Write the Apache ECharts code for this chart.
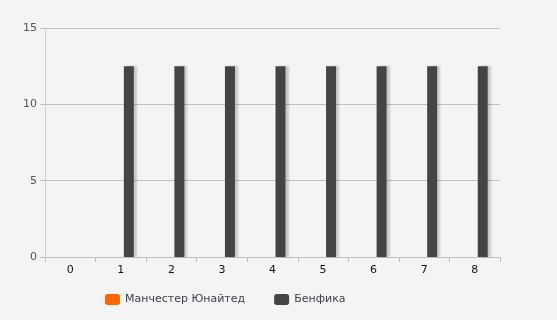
<!DOCTYPE html>
<html><head><meta charset="utf-8">
<script src="https://cdn.jsdelivr.net/npm/echarts@6/dist/echarts.min.js"></script>
<style>html,body{margin:0;padding:0;background:#f4f4f4}#c{width:557px;height:320px}</style>
</head><body><div id="c"></div>
<script>
var categories = ['0','1','2','3','4','5','6','7','8'];
var manUtdValues = [0,0,0,0,0,0,0,0,0];
var benficaValues = [0,12.5,12.5,12.5,12.5,12.5,12.5,12.5,12.5];
var seriesNames = ['Манчестер Юнайтед','Бенфика'];
var yTicks = {min:0, max:15, interval:5};

var chart = echarts.init(document.getElementById('c'), null, {renderer:'canvas'});
var font = 'DejaVu Sans, Verdana, sans-serif';
chart.setOption({
  backgroundColor:'#f4f4f4',
  animation:false,
  textStyle:{fontFamily:font},
  grid:{left:45,right:57,top:28,bottom:63,containLabel:false},
  legend:{
    left:100, top:289, itemWidth:15, itemHeight:11, itemGap:29,
    icon:'roundRect',
    textStyle:{fontFamily:font,fontSize:11,color:'#3a3f4a'},
    data:seriesNames
  },
  xAxis:{
    type:'category', data:categories,
    axisLine:{lineStyle:{color:'#c0c0c0'}},
    axisTick:{show:true,length:5,lineStyle:{color:'#c0c0c0'}},
    axisLabel:{color:'#111',fontSize:11,fontFamily:font,margin:8},
    splitLine:{show:false}
  },
  yAxis:{
    type:'value', min:yTicks.min, max:yTicks.max, interval:yTicks.interval,
    axisLine:{show:true,lineStyle:{color:'#c0d0e0'}},
    axisTick:{show:true,length:5,lineStyle:{color:'#c0c0c0'}},
    axisLabel:{color:'#555',fontSize:11,fontFamily:font,margin:8},
    splitLine:{lineStyle:{color:'#c0c0c0'}}
  },
  series:[
    {name:seriesNames[0],type:'bar',data:manUtdValues,barWidth:10,barGap:'60%',
     itemStyle:{color:'#ff6600'}},
    {name:seriesNames[1],type:'bar',data:benficaValues,barWidth:10,barGap:'60%',
     itemStyle:{color:'#444444',
       shadowColor:'rgba(0,0,0,0.18)',shadowOffsetX:3,shadowBlur:2}}
  ]
});
</script></body></html>
